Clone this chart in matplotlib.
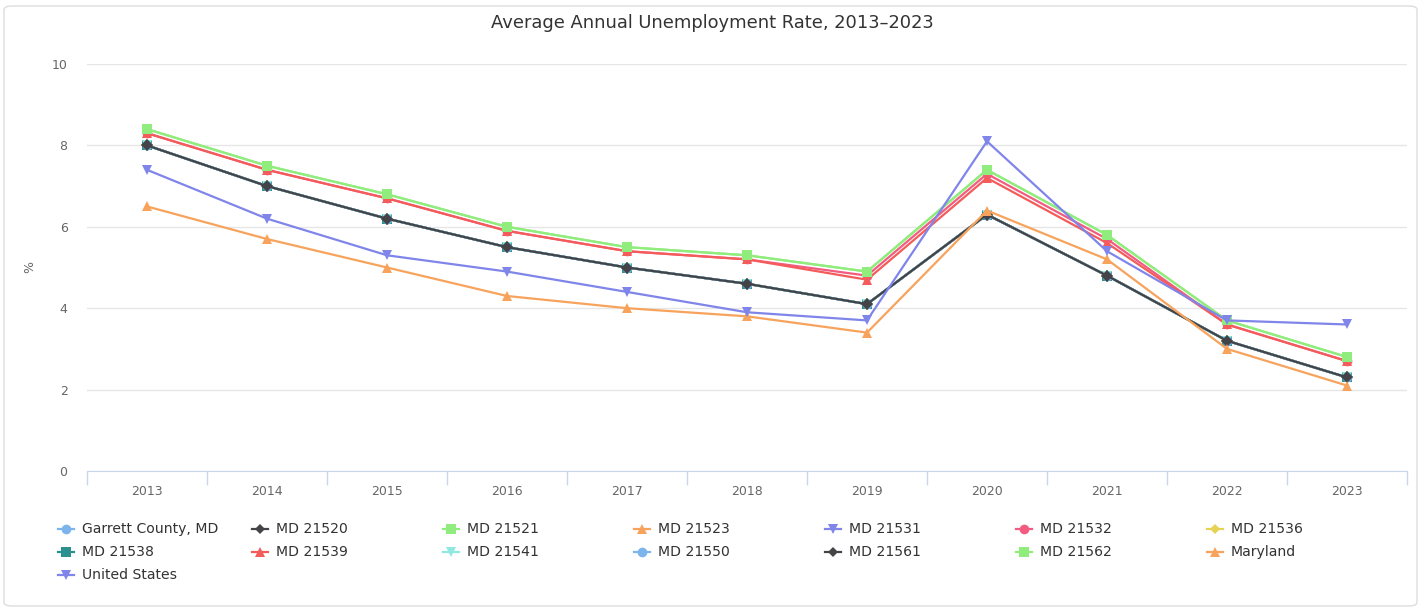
import matplotlib.pyplot as plt
from matplotlib.patches import FancyBboxPatch
from matplotlib.lines import Line2D

years = [2013, 2014, 2015, 2016, 2017, 2018, 2019, 2020, 2021, 2022, 2023]

# Garrett County and its ZIP codes share the county rate
garrett = [8.0, 7.0, 6.2, 5.5, 5.0, 4.6, 4.1, 6.3, 4.8, 3.2, 2.3]
md_21521 = [8.4, 7.5, 6.8, 6.0, 5.5, 5.3, 4.9, 7.4, 5.8, 3.7, 2.8]
md_21532 = [8.3, 7.4, 6.7, 5.9, 5.4, 5.2, 4.8, 7.3, 5.7, 3.6, 2.7]
md_21539 = [8.3, 7.4, 6.7, 5.9, 5.4, 5.2, 4.7, 7.2, 5.6, 3.6, 2.7]
md_21562 = [8.4, 7.5, 6.8, 6.0, 5.5, 5.3, 4.9, 7.4, 5.8, 3.7, 2.8]
maryland = [6.5, 5.7, 5.0, 4.3, 4.0, 3.8, 3.4, 6.4, 5.2, 3.0, 2.1]
united_states = [7.4, 6.2, 5.3, 4.9, 4.4, 3.9, 3.7, 8.1, 5.4, 3.7, 3.6]

names = ['Garrett County, MD', 'MD 21520', 'MD 21521', 'MD 21523', 'MD 21531',
         'MD 21532', 'MD 21536', 'MD 21538', 'MD 21539', 'MD 21541',
         'MD 21550', 'MD 21561', 'MD 21562', 'Maryland', 'United States']
values = [garrett, garrett, md_21521, garrett, garrett,
          md_21532, garrett, garrett, md_21539, garrett,
          garrett, garrett, md_21562, maryland, united_states]

colors = ['#7cb5ec', '#434348', '#90ed7d', '#f7a35c', '#8085e9',
          '#f15c80', '#e4d354', '#2b908f', '#f45b5b', '#91e8e1']
markers = ['o', 'D', 's', '^', 'v']

W, H = 1424, 610
fig = plt.figure(figsize=(W / 100, H / 100), dpi=100)

# rounded chart border
fig.patches.append(FancyBboxPatch((4 / W, 4 / H), 1413 / W, 600 / H,
                                  boxstyle='round,pad=0,rounding_size=0.006',
                                  transform=fig.transFigure, fill=False,
                                  edgecolor='#dddddd', linewidth=1))

ax = fig.add_axes([87 / W, 1 - 471 / H, 1320 / W, 407 / H])

x = list(range(len(years)))
for i, (name, vals) in enumerate(zip(names, values)):
    c = colors[i % len(colors)]
    m = markers[i % len(markers)]
    ms = 6 if m == 'D' else 7
    ax.plot(x, vals, color=c, linewidth=1.6, marker=m, markersize=ms,
            markeredgewidth=0, zorder=3 + i)

ax.set_xlim(-0.5, len(years) - 0.5)
ax.set_ylim(0, 10)
ax.set_yticks([0, 2, 4, 6, 8, 10])
ax.set_xticks(x)
ax.set_xticklabels([str(y) for y in years])
ax.set_xticks([i - 0.5 for i in range(len(years) + 1)], minor=True)
ax.tick_params(axis='x', which='major', length=0, pad=10, labelsize=9,
               labelcolor='#666666')
ax.tick_params(axis='x', which='minor', length=10, color='#ccd6eb', width=1)
ax.tick_params(axis='y', length=0, pad=14, labelsize=9, labelcolor='#666666')
ax.grid(axis='y', color='#e6e6e6', linewidth=1)
for side in ['top', 'right', 'left']:
    ax.spines[side].set_visible(False)
ax.spines['bottom'].set_color('#ccd6eb')
ax.spines['bottom'].set_zorder(2)
ax.set_axisbelow(True)

fig.text(30 / W, 1 - 267 / H, '%', rotation=90, ha='center', va='center',
         fontsize=9, color='#666666')

fig.text(0.5, 1 - 23 / H, 'Average Annual Unemployment Rate, 2013\u20132023',
         ha='center', va='center', fontsize=12.9, color='#333333')

# legend laid out row by row, seven items per row
col_x = [66, 260, 451, 642, 833, 1024, 1215]
row_y = [529, 552, 575]
for i, name in enumerate(names):
    r, cidx = divmod(i, 7)
    mx, my = col_x[cidx], row_y[r]
    c = colors[i % len(colors)]
    m = markers[i % len(markers)]
    ms = 5.5 if m == 'D' else 7
    fig.add_artist(Line2D([(mx - 8) / W, (mx + 8) / W], [1 - my / H, 1 - my / H],
                          color=c, linewidth=1.6, transform=fig.transFigure))
    fig.add_artist(Line2D([mx / W], [1 - my / H], color=c, marker=m,
                          markersize=ms, markeredgewidth=0,
                          transform=fig.transFigure))
    fig.text((mx + 16) / W, 1 - my / H, name, ha='left', va='center',
             fontsize=10.1, color='#333333')

fig.savefig('out.png', dpi=100)
